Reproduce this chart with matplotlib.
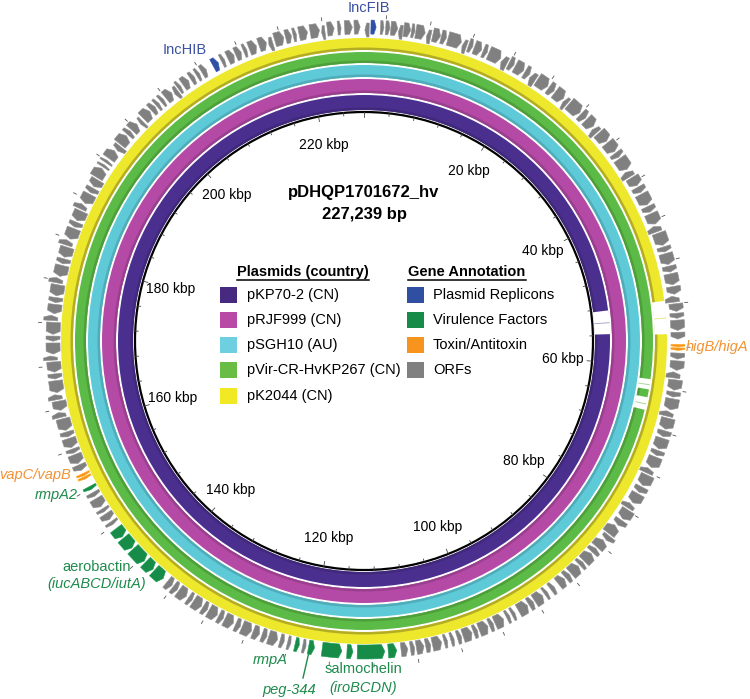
import numpy as np
import matplotlib
matplotlib.use("Agg")
import matplotlib.pyplot as plt
from matplotlib.patches import Wedge, Circle, Polygon, Rectangle

plt.rcParams["font.family"] = ["Liberation Sans", "DejaVu Sans"]

# ---- data -------------------------------------------------------------------
TOTAL_KBP = 227.239
title = "pDHQP1701672_hv"
subtitle = "227,239 bp"

ruler_labels = [20, 40, 60, 80, 100, 120, 140, 160, 180, 200, 220]

plasmids = ["pKP70-2 (CN)", "pRJF999 (CN)", "pSGH10 (AU)",
            "pVir-CR-HvKP267 (CN)", "pK2044 (CN)"]
plasmid_colors = ["#4b2f8f", "#b54aa6", "#5ecad8", "#5cbb46", "#ede82b"]
legend_colors = ["#47297f", "#b84aa5", "#6dcfdf", "#69bd45", "#f2e925"]
# regions without BLAST hits, per plasmid ring (kbp)
ring_gaps = [[(52.3, 55.8)], [], [], [(61.6, 62.9), (63.9, 65.5)], [(52.0, 56.0)]]

annot_types = ["Plasmid Replicons", "Virulence Factors", "Toxin/Antitoxin", "ORFs"]
annot_colors = ["#2f4fa2", "#178b48", "#f7941d", "#808080"]

# ORFs: (start kbp, end kbp, strand)
orfs = [
    (0.1, 0.6, -1), (1.9, 2.3, 1), (2.5, 3.0, 1), (3.1, 3.9, 1), (4.0, 4.5, -1),
    (4.6, 5.4, 1), (5.5, 5.9, 1), (6.0, 7.1, 1), (7.3, 7.8, -1), (8.0, 8.9, 1),
    (9.0, 9.6, 1), (9.8, 11.4, 1), (11.6, 12.1, -1), (12.3, 12.8, 1), (13.0, 13.9, 1),
    (14.1, 14.6, 1), (14.8, 16.3, 1), (16.5, 17.2, -1), (17.4, 18.0, 1), (18.2, 19.3, 1),
    (19.5, 20.1, 1), (20.3, 21.0, -1), (21.2, 22.6, 1), (22.8, 23.5, 1), (23.7, 24.9, 1),
    (25.1, 25.6, -1), (25.8, 27.4, 1), (27.6, 28.3, 1), (28.5, 29.6, 1), (29.8, 30.4, -1),
    (30.6, 31.9, 1), (32.1, 33.4, 1), (33.6, 34.2, 1), (34.4, 35.9, 1), (36.1, 36.8, -1),
    (37.0, 38.1, 1), (38.3, 39.0, 1), (39.2, 40.6, 1), (40.8, 41.5, 1), (41.7, 43.0, 1),
    (43.2, 43.9, -1), (44.1, 45.6, 1), (45.8, 46.4, 1), (46.6, 47.9, 1), (48.1, 48.8, 1),
    (49.0, 50.3, 1), (50.5, 51.4, 1), (51.6, 52.3, -1), (52.5, 53.4, 1), (53.6, 54.2, 1),
    (54.4, 55.6, 1), (55.8, 56.6, 1), (58.2, 58.9, 1), (59.1, 60.2, 1), (60.4, 61.1, -1),
    (61.3, 62.5, 1), (62.7, 63.3, 1), (63.5, 64.8, 1), (65.0, 65.6, -1), (65.8, 67.1, 1),
    (67.3, 68.0, 1), (68.2, 69.5, 1), (69.7, 70.3, 1), (70.5, 71.8, 1), (72.0, 72.6, -1),
    (72.8, 74.1, 1), (74.3, 75.0, 1), (75.2, 76.4, 1), (76.6, 77.2, -1), (77.4, 78.6, 1),
    (78.8, 79.5, 1), (79.7, 80.9, -1), (81.1, 81.7, 1), (81.9, 83.0, -1), (83.2, 83.8, -1),
    (84.0, 85.2, -1), (85.4, 85.9, -1), (86.1, 87.3, -1), (87.5, 88.1, -1), (88.3, 89.2, -1),
    (89.8, 90.3, -1), (90.8, 91.2, -1), (91.5, 92.6, -1), (92.8, 93.4, -1), (93.6, 94.8, -1),
    (95.3, 95.7, -1), (96.0, 96.4, -1), (96.8, 97.9, -1), (98.1, 98.6, -1), (98.8, 99.9, -1),
    (100.1, 100.6, -1), (100.8, 101.9, -1), (102.1, 102.6, -1), (103.0, 103.4, -1),
    (103.8, 104.2, -1), (104.5, 105.6, -1), (105.8, 106.4, -1), (106.6, 107.5, -1),
    (107.7, 108.2, -1), (108.5, 109.3, -1), (120.4, 120.8, -1), (122.2, 122.6, -1),
    (123.0, 123.5, -1), (123.8, 124.9, -1), (125.1, 125.7, -1), (126.0, 126.8, -1),
    (127.0, 128.2, -1), (128.4, 129.0, -1), (129.3, 130.4, -1), (130.6, 131.2, -1),
    (131.4, 132.5, -1), (132.7, 133.3, -1), (133.5, 134.6, -1), (134.8, 135.3, -1),
    (135.6, 136.7, -1), (136.9, 137.5, -1), (137.7, 138.4, -1), (147.6, 148.0, -1),
    (148.3, 149.1, -1), (149.4, 149.8, -1), (150.1, 151.2, -1), (151.5, 152.0, -1),
    (154.9, 155.6, -1), (155.8, 156.9, -1), (157.1, 157.6, -1), (157.8, 158.9, -1),
    (159.1, 159.7, -1), (159.9, 161.3, -1), (161.5, 162.1, 1), (162.3, 163.4, -1),
    (163.6, 164.2, 1), (164.4, 165.8, -1), (166.0, 166.6, -1), (166.8, 168.0, -1),
    (168.2, 168.7, 1), (168.9, 170.2, -1), (170.4, 171.0, -1), (171.2, 172.6, -1),
    (172.8, 173.4, 1), (173.6, 174.7, -1), (174.9, 175.5, -1), (175.7, 177.0, -1),
    (177.2, 177.8, 1), (178.0, 179.3, -1), (179.5, 180.1, -1), (180.3, 181.5, -1),
    (181.7, 182.3, 1), (182.5, 183.8, -1), (184.0, 184.6, -1), (184.8, 186.0, -1),
    (186.2, 186.8, 1), (187.0, 188.2, -1), (188.4, 189.0, -1), (189.2, 190.1, -1),
    (190.3, 191.5, 1), (191.7, 192.0, 1), (192.3, 192.6, 1), (192.9, 194.0, 1),
    (194.2, 194.8, -1), (195.0, 196.2, 1), (196.4, 196.9, 1), (197.1, 198.0, 1),
    (198.3, 198.7, -1), (199.0, 200.1, 1), (200.3, 200.9, 1), (201.1, 201.5, 1),
    (201.8, 202.2, 1), (202.5, 203.4, 1), (203.6, 204.1, -1), (204.3, 204.7, 1),
    (205.0, 205.8, 1), (206.1, 206.6, 1), (206.9, 207.3, 1), (207.6, 208.2, 1),
    (210.2, 210.6, 1), (211.0, 211.8, 1), (212.0, 212.7, 1), (213.0, 213.4, 1),
    (213.7, 214.6, 1), (214.9, 215.8, 1), (216.0, 216.5, -1), (216.8, 217.9, 1),
    (218.1, 218.8, 1), (219.0, 219.4, 1), (219.7, 220.7, 1), (221.0, 222.1, 1),
    (222.3, 222.7, -1), (223.0, 223.8, 1), (224.2, 224.6, 1), (225.0, 225.9, 1),
    (226.1, 226.8, 1),
]

# annotated genes: (start kbp, end kbp, strand, type index)
genes = [
    (0.8, 1.4, 1, 0),                       # IncFIB
    (209.1, 209.8, 1, 0),                   # IncHIB
    (57.2, 57.5, 1, 2), (57.6, 57.9, 1, 2),  # higB/higA
    (154.2, 154.5, -1, 2), (153.8, 154.1, -1, 2),  # vapC/vapB
    (152.4, 152.8, -1, 1),                  # rmpA2
    (139.0, 140.4, -1, 1), (140.6, 141.8, -1, 1), (142.0, 143.9, -1, 1),
    (144.1, 145.6, -1, 1), (145.8, 147.0, -1, 1),  # aerobactin
    (121.2, 121.7, -1, 1),                  # rmpA
    (119.4, 120.1, -1, 1),                  # peg-344
    (109.8, 110.8, -1, 1), (111.2, 114.4, -1, 1),
    (114.9, 115.6, -1, 1), (116.2, 118.5, -1, 1),  # salmochelin
]

# ---- geometry ---------------------------------------------------------------
CX, CY = 364, 341
R_BLACK = 229
RING_R = [(231, 246), (248, 262), (264, 276), (278, 289), (291, 303)]
ORF_R = {1: (307, 321), -1: (304, 318)}


def ang(kbp):
    return 2 * np.pi * kbp / TOTAL_KBP


def xy(kbp, r):
    t = ang(kbp)
    return CX + r * np.sin(t), CY - r * np.cos(t)


def mpl_deg(kbp):
    # wedge angles: counter-clockwise from +x, with y axis pointing down
    return 90 - 360 * kbp / TOTAL_KBP


def shade(c, f):
    rgb = np.array(matplotlib.colors.to_rgb(c))
    return tuple(np.clip(rgb * f, 0, 1))


def arc_wedge(ax, k0, k1, r0, r1, color, z=2):
    # y axis inverted -> flip angles so arcs run clockwise
    a0, a1 = -mpl_deg(k0), -mpl_deg(k1)
    ax.add_patch(Wedge((CX, CY), r1, min(a0, a1), max(a0, a1), width=r1 - r0,
                       facecolor=color, edgecolor="none", zorder=z))


def orf_poly(ax, k0, k1, strand, color, z=4):
    r0, r1 = ORF_R[strand]
    rm = (r0 + r1) / 2
    tip = min(0.35, 0.4 * (k1 - k0))
    if strand > 0:
        body = np.linspace(k0, k1 - tip, 12)
        pts = [xy(k, r0) for k in body] + [xy(k1, rm)] + [xy(k, r1) for k in body[::-1]]
    else:
        body = np.linspace(k0 + tip, k1, 12)
        pts = [xy(k, r0) for k in body] + [xy(k, r1) for k in body[::-1]] + [xy(k0, rm)]
    ax.add_patch(Polygon(pts, closed=True, facecolor=color,
                         edgecolor=shade(color, 1.15), linewidth=0.4, zorder=z))


fig = plt.figure(figsize=(7.5, 6.99), dpi=100)
ax = fig.add_axes([0, 0, 1, 1])
ax.set_xlim(0, 750)
ax.set_ylim(699, 0)
ax.axis("off")

# BLAST rings
for (r0, r1), col, gaps in zip(RING_R, plasmid_colors, ring_gaps):
    arc_wedge(ax, 0, TOTAL_KBP, r0, r1, col)
    inner = "#b3ad25" if col == "#ede82b" else shade(col, 0.85)
    arc_wedge(ax, 0, TOTAL_KBP, r0, r0 + 2.5, inner, z=2.1)
    for g0, g1 in gaps:
        arc_wedge(ax, g0, g1, r0 - 0.5, r1 + 0.5, "white", z=2.5)
        gm = (g0 + g1) / 2
        arc_wedge(ax, gm, gm + 0.12, r0, r1, shade(col, 0.9) + (0.5,), z=2.6)

# backbone circle + inner ruler
ax.add_patch(Circle((CX, CY), R_BLACK, fill=False, edgecolor="black", linewidth=1.6, zorder=3))
for k in np.arange(0, TOTAL_KBP, 4):
    ln = 5 if k % 20 == 0 else 3
    (x0, y0), (x1, y1) = xy(k, R_BLACK), xy(k, R_BLACK - ln)
    ax.plot([x0, x1], [y0, y1], color="#444444", lw=0.6, zorder=3)
for k in np.arange(2.5, TOTAL_KBP, 5):
    (x0, y0), (x1, y1) = xy(k, 323), xy(k, 326)
    ax.plot([x0, x1], [y0, y1], color="#555555", lw=0.6, zorder=3)

for k in ruler_labels:
    x, y = xy(k, 200)
    ax.text(x, y, f"{k} kbp", ha="center", va="center", fontsize=10, zorder=5)

# ORFs and annotated genes
for k0, k1, s in orfs:
    orf_poly(ax, k0, k1, s, annot_colors[3])
for k0, k1, s, t in genes:
    orf_poly(ax, k0, k1, s, annot_colors[t], z=4.5)

# centre title
ax.text(CX, 193, title, ha="center", va="center", fontsize=12, fontweight="bold")
ax.text(CX, 214, subtitle, ha="center", va="center", fontsize=12, fontweight="bold")

# legends
heads = []
heads.append(ax.text(303, 272, "Plasmids (country)", ha="center", va="center",
                     fontsize=10.5, fontweight="bold"))
heads.append(ax.text(467, 272, "Gene Annotation", ha="center", va="center",
                     fontsize=10.5, fontweight="bold"))
row_y = [295, 320, 345, 370, 396]
for i, (name, col) in enumerate(zip(plasmids, legend_colors)):
    ax.add_patch(Rectangle((220, row_y[i] - 8), 17, 16, facecolor=col, edgecolor="none"))
    ax.text(247, row_y[i], name, ha="left", va="center", fontsize=10.5)
for i, (name, col) in enumerate(zip(annot_types, annot_colors)):
    ax.add_patch(Rectangle((407, row_y[i] - 8), 17, 16, facecolor=col, edgecolor="none"))
    ax.text(433, row_y[i], name, ha="left", va="center", fontsize=10.5)

fig.canvas.draw()
inv = ax.transData.inverted()
for h in heads:
    bb = h.get_window_extent()
    (xa, ya), (xb, yb) = inv.transform([(bb.x0, bb.y0), (bb.x1, bb.y0)])
    ax.plot([xa, xb], [ya + 1, yb + 1], color="black", lw=1.1)

# gene labels
blue, green, orange = "#3b52a3", "#1e8b4c", "#f39232"
ax.text(369, 8, "IncFIB", color=blue, ha="center", va="center", fontsize=10.5)
ax.text(185, 50, "IncHIB", color=blue, ha="center", va="center", fontsize=10.5)
ax.text(686, 347, "higB/higA", color=orange, ha="left", va="center", fontsize=10.5, style="italic")
ax.text(71, 475, "vapC/vapB", color=orange, ha="right", va="center", fontsize=10.5, style="italic")
ax.text(78, 495, "rmpA2", color=green, ha="right", va="center", fontsize=10.5, style="italic")
ax.text(97, 567, "aerobactin", color=green, ha="center", va="center", fontsize=10.5)
ax.text(97, 584, "(iucABCD/iutA)", color=green, ha="center", va="center", fontsize=10.5, style="italic")
ax.text(270, 660, "rmpA", color=green, ha="center", va="center", fontsize=10.5, style="italic")
ax.text(289, 690, "peg-344", color=green, ha="center", va="center", fontsize=10.5, style="italic")
ax.plot([303, 309], [678, 652], color=green, lw=1)
ax.text(363, 669, "salmochelin", color=green, ha="center", va="center", fontsize=10.5)
ax.text(363, 688, "(iroBCDN)", color=green, ha="center", va="center", fontsize=10.5, style="italic")

fig.savefig("out.png", dpi=100)
